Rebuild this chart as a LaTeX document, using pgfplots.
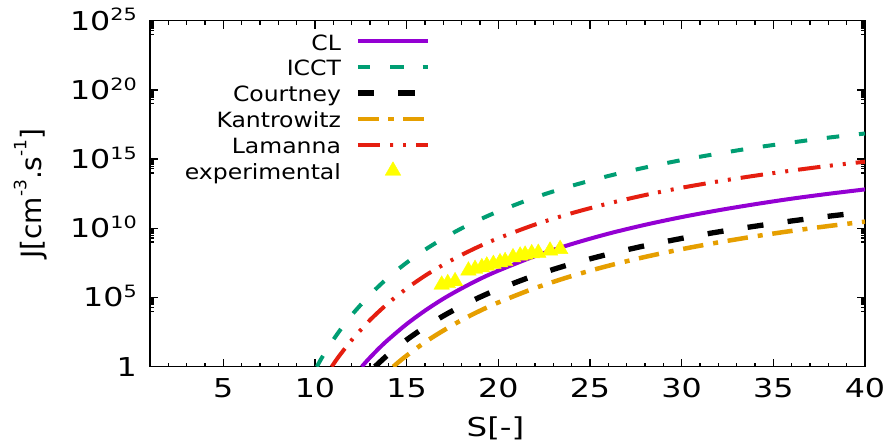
\documentclass[border=0pt]{standalone}
\usepackage{pgfplots}
\pgfplotsset{compat=1.18}
\usepackage{fontspec}
\setmainfont{DejaVu Sans}
\newfontfamily\tickfont[FakeStretch=1.22]{DejaVu Sans}
\newfontfamily\xlabfont[FakeStretch=1.25]{DejaVu Sans}
\newfontfamily\keyfont[FakeStretch=1.12]{DejaVu Sans}
% raised exponent: #1 raise, #2 size, #3 text
\newcommand\sups[3]{\raisebox{#1}{\fontsize{#2}{#2}\selectfont #3}}

\definecolor{clpurple}{RGB}{148,0,211}
\definecolor{icctgreen}{RGB}{0,158,115}
\definecolor{kantorange}{RGB}{230,159,0}
\definecolor{lamred}{RGB}{229,30,16}
\definecolor{expyellow}{RGB}{255,255,0}

\begin{document}
\begin{tikzpicture}
\path[use as bounding box] (-150pt,-79.3pt) rectangle (742pt,366.7pt);
\begin{axis}[
  at={(0pt,0pt)}, anchor=south west,
  scale only axis, width=715pt, height=346pt,
  xmin=1, xmax=40,
  ymode=log, ymin=1, ymax=1e25,
  axis line style={line width=1.3pt},
  every tick/.style={black, line width=1.3pt},
  tick align=inside,
  major tick length=8pt, minor tick length=4pt,
  xtick={5,10,15,20,25,30,35,40},
  xticklabels={5,10,15,20,25,30,35,40},
  minor xtick={1,2,3,4,5,6,7,8,9,10,11,12,13,14,15,16,17,18,19,20,21,22,23,24,25,26,27,28,29,30,31,32,33,34,35,36,37,38,39,40},
  ytick={1,1e5,1e10,1e15,1e20,1e25},
  yticklabels={1,
    10\sups{0.36em}{17}{5},
    10\sups{0.36em}{17}{10},
    10\sups{0.36em}{17}{15},
    10\sups{0.36em}{17}{20},
    10\sups{0.36em}{17}{25}},
  minor ytick={1e4,2e4,3e4,4e4,5e4,6e4,7e4,8e4,9e4,
               1e9,2e9,3e9,4e9,5e9,6e9,7e9,8e9,9e9,
               1e14,2e14,3e14,4e14,5e14,6e14,7e14,8e14,9e14,
               1e19,2e19,3e19,4e19,5e19,6e19,7e19,8e19,9e19,
               1e24,2e24,3e24,4e24,5e24,6e24,7e24,8e24,9e24},
  xticklabel style={font=\fontsize{26}{26}\tickfont, anchor=base, inner sep=0pt, yshift=-30.6pt},
  yticklabel style={font=\fontsize{26}{26}\tickfont, anchor=base east, inner sep=0pt, xshift=-13pt, yshift=-9.5pt},
  xlabel={S[-]},
  xlabel style={font=\fontsize{26}{26}\xlabfont, at={(axis description cs:0.4832,-0.2023)}, anchor=base, inner sep=0pt},
  ylabel={J[cm\sups{0.55em}{17}{-3}.s\sups{0.55em}{17}{-1}]},
  ylabel style={font=\fontsize{28}{28}\selectfont, at={(axis description cs:-0.1515,0.5)}, anchor=base, inner sep=0pt},
  legend plot pos=right,
  legend cell align=right,
  legend image code/.code={\draw[mark repeat=2,mark phase=2] plot coordinates {(0pt,0pt) (35pt,0pt) (70pt,0pt)};},
  legend style={draw=none, fill=none, at={(axis description cs:0.3925,0.976)}, anchor=north east,
    inner sep=0pt, outer sep=0pt, row sep=1.4pt, column sep=12.4pt,
    font=\fontsize{21}{21}\keyfont,
    cells={anchor=east, inner sep=0pt, text height=19pt, text depth=3pt}},
]
% classical theory
\addplot[clpurple, line width=4pt, smooth] coordinates {
 (12.55,1) (12.75,2.00) (13,4.57) (13.5,2.19e1) (14,9.12e1) (15,1.20e3)
 (16,1.12e4) (17,8.13e4) (18,4.57e5) (19,2.19e6) (20,8.71e6) (22,9.77e7)
 (24,7.24e8) (26,4.07e9) (28,1.78e10) (30,6.46e10) (32,2.00e11)
 (34,5.50e11) (36,1.38e12) (38,3.09e12) (40,6.46e12)};
\addlegendentry{CL}
% internally consistent theory
\addplot[icctgreen, line width=4pt, dash pattern=on 12.5pt off 19.8pt, smooth] coordinates {
 (10.1,1) (10.3,3.02) (10.5,8.32) (11,8.91e1) (11.5,7.59e2) (12,5.37e3)
 (13,1.58e5) (14,2.82e6) (15,3.31e7) (16,2.82e8) (17,1.86e9) (18,1.00e10)
 (19,4.37e10) (20,1.66e11) (22,1.70e12) (24,1.17e13) (26,6.03e13)
 (28,2.45e14) (30,8.51e14) (32,2.51e15) (34,6.76e15) (36,1.58e16)
 (38,3.55e16) (40,7.08e16)};
\addlegendentry{ICCT}
% Courtney correction
\addplot[black, line width=5.3pt, dash pattern=on 16pt off 24.4pt, smooth] coordinates {
 (13.27,1) (13.6,2.57) (14,7.59) (15,8.71e1) (16,7.24e2) (17,4.68e3)
 (18,2.45e4) (19,1.07e5) (20,3.98e5) (22,3.98e6) (24,2.69e7) (26,1.35e8)
 (28,5.50e8) (30,1.86e9) (32,5.50e9) (34,1.41e10) (36,3.39e10)
 (38,7.41e10) (40,1.48e11)};
\addlegendentry{Courtney}
% Kantrowitz correction
\addplot[kantorange, line width=4.5pt, dash pattern=on 20.5pt off 10pt on 5pt off 9.7pt, smooth] coordinates {
 (14.27,1) (14.6,2.40) (15,6.31) (16,5.89e1) (17,4.07e2) (18,2.34e3)
 (19,1.10e4) (20,4.37e4) (22,4.79e5) (24,3.55e6) (26,1.95e7) (28,8.51e7)
 (30,3.09e8) (32,9.55e8) (34,2.63e9) (36,6.46e9) (38,1.45e10) (40,3.02e10)};
\addlegendentry{Kantrowitz}
% Lamanna model
\addplot[lamred, line width=4pt, dash pattern=on 22.5pt off 9.5pt on 3pt off 10pt on 3pt off 10pt, smooth] coordinates {
 (10.91,1) (11.2,3.63) (11.5,1.23e1) (12,8.32e1) (13,2.34e3) (14,3.98e4)
 (15,4.47e5) (16,3.72e6) (17,2.34e7) (18,1.20e8) (19,5.25e8) (20,1.91e9)
 (22,1.86e10) (24,1.23e11) (26,6.17e11) (28,2.51e12) (30,8.51e12)
 (32,2.45e13) (34,6.31e13) (36,1.48e14) (38,3.24e14) (40,6.46e14)};
\addlegendentry{Lamanna}
% measured nucleation rates
\addplot[only marks, mark=triangle*, mark size=9pt,
  mark options={draw=expyellow, fill=expyellow, line width=0.4pt, solid},
  legend image code/.code={\draw plot coordinates {(35pt,0pt)};}] coordinates {
 (16.91,8.32e5) (17.24,1.07e6) (17.64,1.48e6)
 (18.37,8.71e6) (18.73,1.15e7) (19.10,1.51e7) (19.37,2.00e7) (19.73,2.63e7)
 (20.09,3.47e7) (20.37,4.17e7)
 (20.80,7.94e7) (21.19,1.05e8) (21.46,1.23e8) (21.82,1.55e8) (22.18,1.66e8)
 (22.82,2.40e8) (23.37,3.16e8)};
\addlegendentry{experimental}
\end{axis}
\end{tikzpicture}
\end{document}
